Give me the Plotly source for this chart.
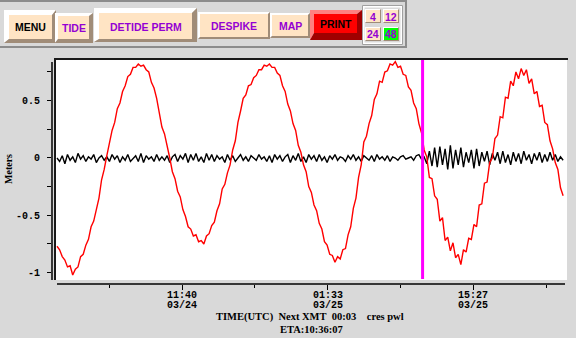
import pandas as pd
import plotly.graph_objects as go

# ---------------- data ----------------
start_time = "2024-03-23 23:45"
sample_step = "15min"

tide_red = [
    -0.77, -0.80, -0.86, -0.89, -0.95, -0.94, -1.02, -0.97, -0.95, -0.86,
    -0.84, -0.76, -0.71, -0.60, -0.55, -0.44, -0.35, -0.19, -0.10, 0.02,
    0.12, 0.24, 0.31, 0.43, 0.48, 0.58, 0.63, 0.71, 0.73, 0.79,
    0.79, 0.82, 0.80, 0.81, 0.77, 0.75, 0.66, 0.61, 0.52, 0.41,
    0.27, 0.21, 0.11, 0.00, -0.12, -0.18, -0.29, -0.34, -0.45, -0.51,
    -0.60, -0.62, -0.68, -0.67, -0.73, -0.72, -0.75, -0.68, -0.66, -0.59,
    -0.56, -0.46, -0.40, -0.27, -0.23, -0.13, -0.06, 0.07, 0.15, 0.31,
    0.41, 0.52, 0.55, 0.63, 0.64, 0.70, 0.72, 0.77, 0.77, 0.81,
    0.80, 0.82, 0.79, 0.79, 0.74, 0.72, 0.63, 0.58, 0.47, 0.41,
    0.30, 0.24, 0.11, 0.05, -0.06, -0.12, -0.25, -0.30, -0.41, -0.46,
    -0.57, -0.62, -0.73, -0.76, -0.84, -0.85, -0.91, -0.86, -0.88, -0.80,
    -0.79, -0.67, -0.60, -0.44, -0.35, -0.17, -0.06, 0.14, 0.19, 0.30,
    0.37, 0.51, 0.56, 0.67, 0.66, 0.75, 0.76, 0.82, 0.81, 0.84,
    0.79, 0.80, 0.73, 0.72, 0.62, 0.59, 0.48, 0.43, 0.30, 0.22,
    0.07, 0.01, -0.17, -0.18, -0.33, -0.36, -0.55, -0.52, -0.72, -0.69,
    -0.81, -0.74, -0.87, -0.84, -0.93, -0.80, -0.82, -0.70, -0.71, -0.58,
    -0.60, -0.41, -0.40, -0.22, -0.21, -0.04, 0.00, 0.17, 0.20, 0.36,
    0.35, 0.53, 0.52, 0.67, 0.63, 0.75, 0.69, 0.78, 0.72, 0.77,
    0.65, 0.69, 0.56, 0.58, 0.45, 0.46, 0.31, 0.29, 0.15, 0.08,
    -0.04, -0.10, -0.26, -0.33,
]

residual_black = [
    0.00, -0.03, 0.02, -0.05, 0.03, -0.02, 0.01, -0.04, 0.04, -0.01,
    0.02, -0.03, 0.01, -0.01, 0.03, -0.04, 0.00, 0.02, -0.02, 0.01,
    -0.03, 0.03, -0.01, 0.02, -0.04, 0.01, -0.02, 0.03, -0.03, 0.00,
    0.02, -0.03, 0.04, -0.04, 0.02, -0.01, 0.01, -0.03, 0.03, -0.02,
    0.01, -0.02, 0.02, -0.04, 0.01, 0.03, -0.03, 0.02, -0.01, 0.04,
    -0.04, 0.03, -0.02, 0.04, -0.03, 0.01, -0.04, 0.04, -0.02, 0.03,
    -0.03, 0.02, -0.01, 0.01, -0.04, 0.03, -0.02, 0.02, -0.03, 0.00,
    0.03, -0.02, 0.01, -0.03, 0.02, 0.00, -0.02, 0.03, -0.01, 0.01,
    -0.03, 0.02, -0.04, 0.03, -0.01, 0.02, -0.03, 0.01, 0.03, -0.04,
    0.02, -0.02, 0.04, -0.03, 0.01, -0.04, 0.03, -0.01, 0.02, -0.03,
    0.03, -0.02, 0.01, -0.04, 0.02, -0.01, 0.03, -0.02, 0.01, 0.00,
    -0.03, 0.02, -0.01, 0.03, -0.02, 0.01, -0.03, 0.02, 0.00, -0.02,
    0.02, -0.03, 0.03, -0.01, 0.01, -0.02, 0.02, -0.03, 0.01, 0.00,
    -0.02, 0.01, 0.02, -0.01, 0.00, 0.01, -0.02, 0.02, 0.03, -0.01,
    0.01, -0.05, 0.06, -0.07, 0.09, -0.08, 0.10, -0.06, 0.08, -0.10,
    0.11, -0.09, 0.07, -0.06, 0.09, -0.08, 0.05, -0.04, 0.07, -0.09,
    0.08, -0.07, 0.05, -0.03, 0.06, -0.06, 0.04, -0.02, 0.05, -0.05,
    0.06, -0.04, 0.03, -0.06, 0.05, -0.03, 0.04, -0.05, 0.06, -0.02,
    0.03, -0.05, 0.04, -0.02, 0.05, -0.04, 0.03, -0.03, 0.05, -0.02,
    0.03, -0.03, 0.01, -0.02,
]

x_tick_vals = ["2024-03-24 11:40", "2024-03-25 01:33", "2024-03-25 15:27"]
x_tick_time = ["11:40", "01:33", "15:27"]
x_tick_date = ["03/24", "03/25", "03/25"]
x_minor_vals = ["2024-03-24 04:43:30", "2024-03-24 18:36:30",
                "2024-03-25 08:30", "2024-03-25 22:23:30"]
x_range = ["2024-03-23 23:16:24", "2024-03-26 00:22:12"]
y_tick_vals = [-1, -0.5, 0, 0.5]
y_tick_text = ["-1", "-0.5", "0", "0.5"]
y_minor_vals = [-0.75, -0.25, 0.25, 0.75]
y_range = [-1.099, 0.872]
eta_time = "2024-03-25 10:36:07"

buttons = [
    # label, face x0, y0, x1, y1, highlight, shadow_x, shadow_y, face, hl, sh, text color
    ("MENU", 9, 15, 52, 39, 5, 4, 4, "#ffe4c4", "#ffffff", "#a08c78", "#000000"),
    ("TIDE", 58, 16, 89, 39, 3, 4, 4, "#ffe4c4", "#ffffff", "#a08c78", "#9400d3"),
    ("DETIDE PERM", 99, 13, 192, 39, 5, 5, 3, "#ffe4c4", "#ffffff", "#a08c78", "#9400d3"),
    ("DESPIKE", 200, 14, 268, 37, 2, 2, 2, "#ffe4c4", "#ffffff", "#a08c78", "#9400d3"),
    ("MAP", 272, 15, 308, 36, 2, 2, 2, "#ffe4c4", "#ffffff", "#a08c78", "#9400d3"),
    ("PRINT", 314, 14, 357, 33, 4, 5, 7, "#ff0000", "#ff8080", "#a00000", "#000000"),
    ("4", 366, 10, 380, 22, 1, 1, 1, "#ffe4c4", "#ffffff", "#a08c78", "#9400d3"),
    ("12", 384, 10, 398, 22, 1, 1, 1, "#ffe4c4", "#ffffff", "#a08c78", "#9400d3"),
    ("24", 366, 28, 380, 40, 1, 1, 1, "#ffe4c4", "#ffffff", "#a08c78", "#9400d3"),
    ("48", 384, 28, 398, 40, 1, 1, 1, "#00ff00", "#ffffff", "#a08c78", "#9400d3"),
]

# ---------------- geometry helpers ----------------
W, H = 576, 338
L, R, T, B = 52, 567, 58, 284


def PX(px):
    return (px - L) / (R - L)


def PY(py):
    return (B - py) / (B - T)


def path(points):
    return "M " + " L ".join(f"{PX(x):.5f},{PY(y):.5f}" for x, y in points) + " Z"


BG = "#d9d9d9"
times = pd.date_range(start_time, periods=len(tide_red), freq=sample_step)

fig = go.Figure()
fig.add_trace(go.Scatter(x=times, y=residual_black, mode="lines",
                         line=dict(color="#000000", width=1.4), hoverinfo="skip"))
fig.add_trace(go.Scatter(x=times, y=tide_red, mode="lines",
                         line=dict(color="#ff0000", width=1.4), hoverinfo="skip"))

shapes = []
# white plot panel
shapes.append(dict(type="rect", xref="paper", yref="paper", x0=PX(55), x1=PX(567),
                   y0=PY(280), y1=PY(58), fillcolor="#ffffff", line_width=0, layer="below"))
# dark frame top / left
shapes.append(dict(type="line", xref="paper", yref="paper", x0=PX(54), x1=PX(568),
                   y0=PY(59), y1=PY(59), line=dict(color="#1a1a1a", width=2), layer="below"))
shapes.append(dict(type="line", xref="paper", yref="paper", x0=PX(55), x1=PX(55),
                   y0=PY(58), y1=PY(280), line=dict(color="#1a1a1a", width=2), layer="below"))
# axis lines
shapes.append(dict(type="line", xref="paper", yref="paper", x0=PX(52), x1=PX(52),
                   y0=PY(62), y1=PY(280), line=dict(color="#000000", width=1.5)))
shapes.append(dict(type="line", xref="paper", yref="paper", x0=PX(57), x1=PX(565),
                   y0=PY(284), y1=PY(284), line=dict(color="#000000", width=1.5)))
# ETA marker
shapes.append(dict(type="line", xref="x", yref="paper", x0=eta_time, x1=eta_time,
                   y0=PY(279), y1=PY(60), line=dict(color="#ff00ff", width=3)))

# toolbar frame
shapes.append(dict(type="rect", xref="paper", yref="paper", x0=PX(0), x1=PX(407),
                   y0=PY(2), y1=PY(0), fillcolor="#8c8c8c", line_width=0, layer="below"))
shapes.append(dict(type="rect", xref="paper", yref="paper", x0=PX(0), x1=PX(407),
                   y0=PY(48), y1=PY(46), fillcolor="#8c8c8c", line_width=0, layer="below"))
shapes.append(dict(type="rect", xref="paper", yref="paper", x0=PX(405), x1=PX(407),
                   y0=PY(48), y1=PY(0), fillcolor="#8c8c8c", line_width=0, layer="below"))
# small-button group frame
shapes.append(dict(type="rect", xref="paper", yref="paper", x0=PX(362.5), x1=PX(402.5),
                   y0=PY(44.5), y1=PY(5.5), fillcolor="#ffffff",
                   line=dict(color="#a0a0a0", width=1), layer="below"))
shapes.append(dict(type="rect", xref="paper", yref="paper", x0=PX(364), x1=PX(401),
                   y0=PY(43), y1=PY(7), fillcolor="#d9d9d9",
                   line=dict(color="#ffffff", width=1), layer="below"))

annotations = []
for (lab, x0, y0, x1, y1, h, sx, sy, face, hl, sh, tc) in buttons:
    ox0, oy0, ox1, oy1 = x0 - h, y0 - h, x1 + sx, y1 + sy
    shapes.append(dict(type="path", xref="paper", yref="paper", layer="below",
                       path=path([(ox0, oy0), (ox1, oy0), (x1, y0), (x0, y0), (x0, y1), (ox0, oy1)]),
                       fillcolor=hl, line_width=0))
    shapes.append(dict(type="path", xref="paper", yref="paper", layer="below",
                       path=path([(ox1, oy0), (ox1, oy1), (ox0, oy1), (x0, y1), (x1, y1), (x1, y0)]),
                       fillcolor=sh, line_width=0))
    shapes.append(dict(type="rect", xref="paper", yref="paper", layer="below",
                       x0=PX(x0), x1=PX(x1), y0=PY(y1), y1=PY(y0), fillcolor=face, line_width=0))
    annotations.append(dict(text=lab, xref="paper", yref="paper", x=PX((x0 + x1) / 2),
                            y=PY((y0 + y1) / 2 + 0.5), xanchor="center", yanchor="middle",
                            showarrow=False,
                            font=dict(family="Liberation Sans", size=10.5, color=tc, weight="bold")))

# x tick labels (two lines, tight spacing)
mono = dict(family="Liberation Mono", size=10, color="#000000", weight="bold")
for tv, t1, t2 in zip(x_tick_vals, x_tick_time, x_tick_date):
    annotations.append(dict(text=t1, xref="x", yref="paper", x=tv, y=PY(295.5),
                            showarrow=False, xanchor="center", yanchor="middle", font=mono))
    annotations.append(dict(text=t2, xref="x", yref="paper", x=tv, y=PY(305),
                            showarrow=False, xanchor="center", yanchor="middle", font=mono))

serif = "Liberation Serif"
annotations.append(dict(text="Meters", xref="paper", yref="paper", x=PX(8), y=PY(169),
                        textangle=-90, showarrow=False, xanchor="center", yanchor="middle",
                        font=dict(family=serif, size=10, color="#000000", weight="bold")))
annotations.append(dict(text="TIME(UTC)\u00a0 Next\u00a0XMT\u00a0 00:03\u00a0\u00a0\u00a0 cres\u00a0pwl",
                        xref="paper", yref="paper", x=PX(310), y=PY(317), showarrow=False,
                        xanchor="center", yanchor="middle",
                        font=dict(family=serif, size=10.5, color="#000000", weight="bold")))
annotations.append(dict(text="ETA:10:36:07", xref="paper", yref="paper", x=PX(311.5), y=PY(329),
                        showarrow=False, xanchor="center", yanchor="middle",
                        font=dict(family=serif, size=10.5, color="#000000", weight="bold")))

fig.update_layout(
    width=W, height=H, autosize=False,
    margin=dict(l=L, r=W - R, t=T, b=H - B, pad=0),
    paper_bgcolor=BG, plot_bgcolor="rgba(0,0,0,0)",
    showlegend=False,
    shapes=shapes, annotations=annotations,
    xaxis=dict(type="date", range=x_range, showgrid=False, zeroline=False, showline=False,
               tickmode="array", tickvals=x_tick_vals, showticklabels=False,
               ticks="outside", ticklen=5, tickwidth=1, tickcolor="#000000",
               minor=dict(tickmode="array", tickvals=x_minor_vals, ticks="outside",
                          ticklen=3, tickwidth=1, tickcolor="#000000", showgrid=False)),
    yaxis=dict(range=y_range, showgrid=False, zeroline=False, showline=False,
               tickmode="array", tickvals=y_tick_vals, ticktext=y_tick_text,
               ticks="outside", ticklen=4, tickwidth=1, tickcolor="#000000",
               ticklabelstandoff=5,
               tickfont=mono,
               minor=dict(tickmode="array", tickvals=y_minor_vals, ticks="outside",
                          ticklen=4, tickwidth=1, tickcolor="#000000", showgrid=False)),
)

fig.write_html("out.html")
